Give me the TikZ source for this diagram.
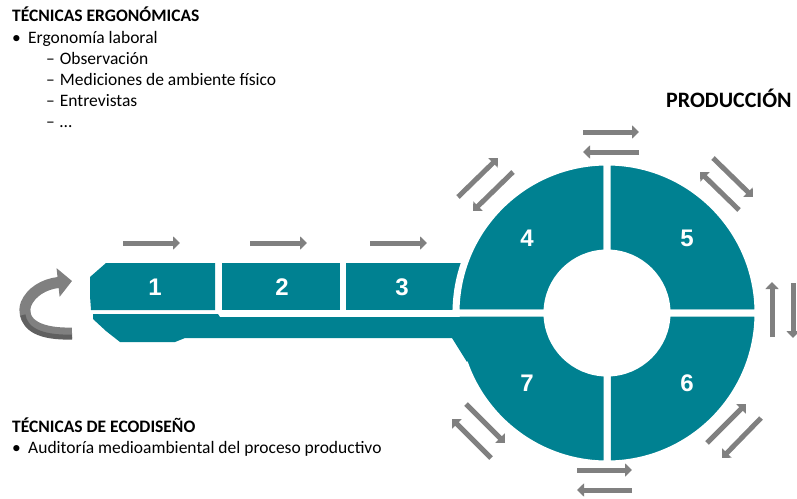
\documentclass[tikz,border=0pt]{standalone}
\usepackage{fontspec}
\setmainfont{Carlito}
\newfontfamily\numfont{Liberation Sans}
\usepackage{tikz}
\usetikzlibrary{arrows.meta}
\definecolor{ringteal}{RGB}{0,129,145}
\definecolor{arrgray}{RGB}{128,128,128}
\definecolor{sidegray}{RGB}{96,96,96}

\tikzset{
  seg/.style={fill=ringteal, draw=white, line width=7pt},
  garrow/.style={draw=arrgray, line width=5pt, -{Triangle[length=7pt,width=13pt]}},
  num/.style={text=white, font=\numfont\bfseries\fontsize{24}{24}\selectfont},
  txt/.style={anchor=base west, inner sep=0pt, font=\fontsize{17.5}{21}\selectfont},
}

\begin{document}
\begin{tikzpicture}[x=1pt,y=1pt,yscale=-1]
\useasboundingbox (0,0) rectangle (797,498);

% boxes of the bar
\fill[ringteal] (90,277) -- (106,263) -- (215,263) -- (215,310) -- (91,310) -- (90,296) -- cycle;
\fill[ringteal] (222,263) rectangle (340,310);
\fill[ringteal] (346,263) rectangle (468,310);

% ring
\begin{scope}[shift={(607,313)}]
\draw[seg] (180:151) arc[start angle=180,end angle=270,radius=151] -- (270:60) arc[start angle=270,end angle=180,radius=60] -- cycle;
\draw[seg] (270:151) arc[start angle=270,end angle=360,radius=151] -- (0:60) arc[start angle=360,end angle=270,radius=60] -- cycle;
\draw[seg] (0:151) arc[start angle=0,end angle=90,radius=151] -- (90:60) arc[start angle=90,end angle=0,radius=60] -- cycle;
\draw[seg] (90:151) arc[start angle=90,end angle=180,radius=151] -- (180:60) arc[start angle=180,end angle=90,radius=60] -- cycle;
\end{scope}

% lower bar
\fill[ringteal] (93,314) -- (218,314) -- (220,317) -- (480,317) -- (480,345) -- (467,362) -- (452,338)
  -- (185,338) -- (175,342) -- (120,342) -- (106,331) -- (93,319) -- cycle;

% numbers
\node[num] (n1) at (155,287) {1};
\node[num] (n2) at (282,287) {2};
\node[num] (n3) at (402,287) {3};
\node[num] (n4) at (527,238) {4};
\node[num] (n5) at (687,238) {5};
\node[num] (n6) at (687,383) {6};
\node[num] (n7) at (527,383) {7};

% arrows along the bar
\draw[garrow] (123,243) -- (180,243);
\draw[garrow] (250,243) -- (307,243);
\draw[garrow] (370,243) -- (427,243);

% arrows round the ring
\draw[garrow] (583,132) -- (639,132);
\draw[garrow] (639,152) -- (583,152);
\draw[garrow] (713,158) -- (753,197);
\draw[garrow] (739,210) -- (700,172);
\draw[garrow] (772,337) -- (772,282);
\draw[garrow] (793,283) -- (793,338);
\draw[garrow] (707,443) -- (746,404);
\draw[garrow] (761,418) -- (722,458);
\draw[garrow] (577,470) -- (632,470);
\draw[garrow] (632,490) -- (577,490);
\draw[garrow] (491,458) -- (452,419);
\draw[garrow] (466,404) -- (505,443);
\draw[garrow] (458,197) -- (498,158);
\draw[garrow] (513,172) -- (473,211);

% curved arrow
\draw[arrgray, line width=11pt, -{Triangle[length=14pt,width=28pt]}]
  (72,333) .. controls (32,334) and (21,319) .. (26,304) .. controls (31,292) and (44,284) .. (72,281);
\draw[sidegray, line width=5pt] (72,337) .. controls (38,338) and (25,328) .. (23,315);

% texts
\node[txt] (ergo) at (12,21.5) {\bfseries TÉCNICAS ERGONÓMICAS};
\node[txt] (ergob) at (12,43) {•};
\node[txt] (ergol) at (28,43) {Ergonomía laboral};
\node[txt] (obs) at (46,64) {–\hspace{5pt}Observación};
\node[txt] (med) at (46,85) {–\hspace{5pt}Mediciones de ambiente físico};
\node[txt] (ent) at (46,106) {–\hspace{5pt}Entrevistas};
\node[txt] (etc) at (46,127) {–\hspace{5pt}…};
\node[txt, font=\bfseries\fontsize{22}{26}\selectfont] (prod) at (666,107) {PRODUCCIÓN};
\node[txt] (eco) at (12,432) {\bfseries TÉCNICAS DE ECODISEÑO};
\node[txt] (ecob) at (12,453) {•};
\node[txt] (audit) at (28,453) {Auditoría medioambiental del proceso productivo};

\end{tikzpicture}
\end{document}
